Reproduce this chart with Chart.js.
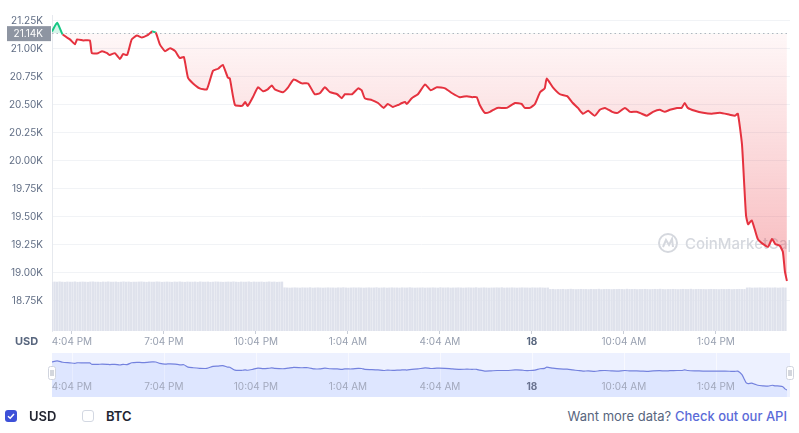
<!DOCTYPE html>
<html>
<head>
<meta charset="utf-8">
<script src="https://cdn.jsdelivr.net/npm/chart.js@4.4.1/dist/chart.umd.min.js"></script>
<style>
  body { margin: 0; width: 799px; height: 433px; background: #fff; position: relative; overflow: hidden; font-family: Inter, "Noto Sans", sans-serif; }
  canvas { position: absolute; left: 0; }
  .axis-unit { position: absolute; left: 15px; top: 334px; font-size: 11px; font-weight: 700; color: #58667e; }
  .box { position: absolute; width: 12px; height: 12px; border-radius: 3px; box-sizing: border-box; }
  .box svg { display: block; }
  .box.on { left: 5px; top: 410px; background: #3d50d8; }
  .box.off { left: 82px; top: 410px; border: 1px solid #d3d8e2; background: #fff; }
  .lbl { position: absolute; top: 408px; font-size: 13px; font-weight: 600; color: #222531; }
  .api { position: absolute; right: 12px; top: 408px; font-size: 13px; color: #58667e; }
  .api span { color: #5b6bd8; font-weight: 500; }
</style>
</head>
<body>
<canvas id="main" width="799" height="352" style="top:0"></canvas>
<canvas id="nav" width="799" height="46" style="top:352px"></canvas>
<div class="axis-unit">USD</div>
<div class="box on"><svg width="12" height="12" viewBox="0 0 12 12"><polyline points="3,6.3 5.2,8.3 9,4" fill="none" stroke="#fff" stroke-width="1.5"/></svg></div>
<div class="lbl" style="left:29px">USD</div>
<div class="box off"></div>
<div class="lbl" style="left:106px">BTC</div>
<div class="api">Want more data? <span>Check out our API</span></div>
<script>
// BTC/USD, 24h, minutes counted from 00:00 on the 17th
const minutes = [
  925, 935, 946, 960, 970, 974, 986, 999, 1003, 1015,
  1023, 1033, 1038, 1048, 1058, 1064, 1072, 1081, 1091, 1101,
  1111, 1121, 1128, 1136, 1146, 1156, 1166, 1175, 1183, 1191,
  1201, 1214, 1228, 1240, 1250, 1259, 1269, 1273, 1283, 1297,
  1303, 1308, 1318, 1328, 1338, 1347, 1355, 1361, 1377, 1387,
  1398, 1414, 1426, 1439, 1449, 1459, 1469, 1483, 1492, 1498,
  1512, 1524, 1531, 1537, 1551, 1563, 1574, 1582, 1592, 1602,
  1610, 1616, 1619, 1629, 1641, 1655, 1666, 1678, 1694, 1708,
  1723, 1737, 1747, 1756, 1762, 1772, 1782, 1796, 1815, 1831,
  1844, 1850, 1860, 1870, 1880, 1889, 1893, 1905, 1919, 1933,
  1944, 1954, 1964, 1974, 1987, 1997, 2007, 2021, 2032, 2046,
  2056, 2069, 2079, 2089, 2101, 2114, 2124, 2134, 2148, 2157,
  2163, 2169, 2183, 2199, 2216, 2232, 2251, 2261, 2267, 2275,
  2279, 2283, 2287, 2294, 2300, 2306, 2316, 2326, 2334, 2340,
  2349, 2355, 2359, 2363
];
const prices = [
  21154, 21233, 21128, 21084, 21040, 21084, 21075, 21075, 20961, 20961,
  20979, 20961, 20944, 20961, 20909, 20953, 20944, 21084, 21119, 21101,
  21119, 21154, 21145, 21040, 20979, 21005, 20979, 20918, 20927, 20743,
  20691, 20647, 20638, 20804, 20822, 20857, 20743, 20734, 20498, 20490,
  20524, 20490, 20568, 20656, 20621, 20638, 20673, 20638, 20612, 20656,
  20726, 20691, 20691, 20594, 20603, 20656, 20612, 20594, 20559, 20594,
  20594, 20647, 20629, 20559, 20542, 20516, 20472, 20507, 20481, 20498,
  20516, 20524, 20507, 20559, 20594, 20682, 20629, 20656, 20647, 20603,
  20568, 20577, 20568, 20568, 20498, 20428, 20437, 20472, 20472, 20516,
  20507, 20472, 20472, 20507, 20612, 20647, 20734, 20656, 20594, 20577,
  20516, 20472, 20420, 20446, 20402, 20455, 20472, 20437, 20428, 20472,
  20437, 20437, 20420, 20402, 20437, 20455, 20437, 20455, 20472, 20472,
  20516, 20472, 20446, 20428, 20420, 20428, 20411, 20402, 20420, 20149,
  19825, 19510, 19432, 19467, 19388, 19301, 19257, 19231, 19301, 19257,
  19240, 19187, 19012, 18925
];
const baseline = 21140;

// 24h volume, one bar every 5 minutes from 15:25 (billions)
const volStart = 925;
const volStep = 5;
const volumes = [
  38.6, 38.8, 38.7, 38.9, 38.7, 38.6, 38.8, 38.7, 38.7, 38.9, 38.6, 38.7, 38.8, 38.7, 38.6, 38.8, 38.9, 38.7, 38.7, 38.6, 38.8, 38.7, 38.9, 38.7,
  38.7, 38.8, 38.6, 38.7, 38.9, 38.7, 38.8, 38.6, 38.7, 38.7, 38.8, 38.9, 38.7, 38.6, 38.8, 38.7, 38.7, 38.9, 38.8, 38.6, 38.7, 38.8, 38.7, 38.6,
  38.8, 38.7, 38.9, 38.7, 38.6, 38.8, 38.7, 38.7, 38.8, 38.6, 38.9, 38.7, 38.7, 38.8, 38.6, 38.7, 38.9, 38.8, 38.7, 38.6, 38.7, 38.8, 38.7, 38.9,
  38.7, 38.6, 38.8, 38.7, 38.7, 38.9, 38.6, 38.8, 38.7, 38.7, 38.8, 38.6, 38.7, 38.9, 38.7, 38.8, 38.6, 38.7, 38.8, 34.2, 34.1, 34.0, 34.1, 34.2,
  34.1, 34.0, 34.2, 34.1, 34.1, 34.3, 34.0, 34.1, 34.2, 34.1, 34.0, 34.1, 34.2, 34.1, 34.1, 34.0, 34.2, 34.1, 34.3, 34.1, 34.0, 34.1, 34.2, 34.1,
  34.2, 34.1, 34.0, 34.1, 34.2, 34.1, 34.1, 34.3, 34.0, 34.1, 34.2, 34.0, 34.1, 34.2, 34.1, 34.1, 34.0, 34.2, 34.1, 34.1, 34.3, 34.1, 34.0, 34.1,
  34.1, 34.2, 34.0, 34.1, 34.1, 34.2, 34.1, 34.0, 34.3, 34.1, 34.1, 34.2, 34.0, 34.1, 34.1, 34.2, 34.1, 34.0, 34.1, 34.2, 34.1, 34.1, 34.3, 34.0,
  34.1, 34.2, 34.1, 34.0, 34.1, 34.1, 34.2, 34.1, 34.3, 34.0, 34.1, 34.1, 34.2, 34.1, 34.0, 34.1, 34.2, 34.1, 34.1, 34.0, 34.2, 34.1, 34.1, 34.2,
  34.1, 34.0, 34.1, 32.9, 33.0, 32.8, 32.9, 32.9, 33.0, 32.8, 32.9, 33.1, 32.9, 32.8, 32.9, 33.0, 32.9, 32.9, 32.8, 33.0, 32.9, 32.9, 33.1, 32.8,
  32.9, 33.0, 32.9, 32.8, 32.9, 32.9, 33.0, 32.9, 32.8, 33.1, 32.9, 32.9, 33.0, 32.8, 32.9, 32.9, 33.0, 32.9, 32.8, 32.9, 33.0, 32.9, 33.1, 32.9,
  32.8, 32.9, 32.9, 33.0, 32.9, 32.8, 32.9, 33.0, 32.9, 32.9, 33.1, 32.8, 32.9, 33.0, 32.9, 32.9, 32.8, 32.9, 33.0, 32.9, 32.9, 32.8, 33.0, 32.9,
  32.9, 33.0, 32.8, 32.9, 32.9, 33.0, 32.9, 32.9, 34.1, 34.2, 34.0, 34.1, 34.1, 34.2, 34.1, 34.0, 34.2, 34.1, 34.1, 34.2, 34.0, 34.1, 34.2, 34.1
];

const xTicks = [964, 1144, 1324, 1504, 1684, 1864, 2044, 2224];
const xLabels = ['4:04 PM', '7:04 PM', '10:04 PM', '1:04 AM', '4:04 AM', '18', '10:04 AM', '1:04 PM'];
const yTicks = [18750, 19000, 19250, 19500, 19750, 20000, 20250, 20500, 20750, 21000, 21250];

const RED = '#e5323f';
const GREEN = '#16c784';
const X_MIN = 925;
const X_MAX = 2369;

Chart.defaults.font.family = 'Inter, "Noto Sans", sans-serif';

const priceData = minutes.map((m, i) => ({ x: m, y: prices[i] }));
const volData = volumes.map((v, i) => ({ x: volStart + i * volStep, y: v }));
const labelFor = v => xLabels[xTicks.indexOf(v)] || '';
const isDay = ctx => !!(ctx.tick && labelFor(ctx.tick.value) === '18');

// watermark + dotted reference line, behind the series
const backdrop = {
  id: 'backdrop',
  beforeDatasetsDraw(chart) {
    const { ctx, chartArea: a, scales } = chart;
    ctx.save();
    ctx.beginPath();
    ctx.rect(a.left, a.top, a.right - a.left, a.bottom - a.top);
    ctx.clip();
    const cx = a.right - 122, cy = a.top + 228;
    ctx.strokeStyle = '#d5d8de';
    ctx.lineWidth = 2;
    ctx.beginPath();
    ctx.arc(cx, cy, 9, 0, Math.PI * 2);
    ctx.stroke();
    ctx.beginPath();
    ctx.moveTo(cx - 5, cy + 4);
    ctx.lineTo(cx - 2, cy - 3);
    ctx.lineTo(cx + 1, cy + 2);
    ctx.lineTo(cx + 4, cy - 4);
    ctx.lineTo(cx + 5, cy + 4);
    ctx.stroke();
    ctx.fillStyle = '#d5d8de';
    ctx.font = '500 15px Inter';
    ctx.textBaseline = 'middle';
    ctx.fillText('CoinMarketCap', cx + 17, cy + 1);
    // dotted baseline
    const y = Math.round(scales.y.getPixelForValue(baseline)) + 0.5;
    ctx.strokeStyle = '#b4bac6';
    ctx.lineWidth = 1;
    ctx.setLineDash([1.5, 3]);
    ctx.beginPath();
    ctx.moveTo(a.left, y);
    ctx.lineTo(a.right, y);
    ctx.stroke();
    ctx.restore();
  },
  afterDraw(chart) {
    const { ctx, scales } = chart;
    const y = scales.y.getPixelForValue(baseline);
    ctx.save();
    ctx.fillStyle = '#8e95a2';
    ctx.fillRect(7, y - 7, 44, 15);
    ctx.fillStyle = '#fff';
    ctx.font = '10px Inter';
    ctx.textAlign = 'right';
    ctx.textBaseline = 'middle';
    ctx.fillText((baseline / 1000).toFixed(2) + 'K', 43, y + 0.5);
    ctx.restore();
  }
};

new Chart(document.getElementById('main'), {
  data: {
    datasets: [
      {
        type: 'line',
        data: priceData,
        order: 0,
        borderWidth: 2,
        borderColor: RED,
        pointRadius: 0,
        tension: 0.15,
        segment: {
          borderColor: ctx => (ctx.p0.parsed.y + ctx.p1.parsed.y) / 2 > baseline ? GREEN : RED,
        },
        backgroundColor: ctx => {
          const chart = ctx.chart;
          const a = chart.chartArea;
          if (!a || !chart.scales.y) return 'rgba(234,57,67,0.1)';
          const y0 = chart.scales.y.getPixelForValue(baseline);
          const g = chart.ctx.createLinearGradient(0, y0, 0, a.bottom);
          g.addColorStop(0, 'rgba(234,57,67,0.04)');
          g.addColorStop(1, 'rgba(234,57,67,0.42)');
          return g;
        },
        fill: { value: baseline, above: 'rgba(22,199,132,0.18)' },
      },
      {
        type: 'bar',
        data: volData,
        yAxisID: 'vol',
        order: 1,
        backgroundColor: '#dfe2ec',
        barThickness: 1.7,
      }
    ]
  },
  options: {
    responsive: false,
    animation: false,
    devicePixelRatio: 1,
    layout: { padding: { top: 8, right: 9, left: 0, bottom: 0 } },
    plugins: { legend: { display: false }, tooltip: { enabled: false } },
    scales: {
      x: {
        type: 'linear',
        offset: false,
        min: X_MIN,
        max: X_MAX,
        afterBuildTicks: s => { s.ticks = xTicks.map(v => ({ value: v })); },
        afterFit: s => { s.height = 21; },
        border: { display: false },
        grid: { offset: false, drawOnChartArea: false, drawTicks: true, tickLength: 3, color: '#c9ced8' },
        ticks: {
          padding: 2,
          maxRotation: 0,
          autoSkip: false,
          callback: v => labelFor(v),
          color: ctx => isDay(ctx) ? '#58667e' : '#98a0b0',
          font: ctx => ({ size: 10, weight: isDay(ctx) ? '700' : '400' }),
        }
      },
      y: {
        position: 'left',
        min: 18479,
        max: 21302,
        afterBuildTicks: s => { s.ticks = yTicks.map(v => ({ value: v })); },
        afterFit: s => { s.width = 52; },
        border: { display: true, color: '#e6e9ee' },
        grid: { color: '#f1f3f6', drawTicks: false },
        ticks: {
          padding: 9,
          color: '#616e85',
          font: { size: 10 },
          callback: v => (v / 1000).toFixed(2) + 'K',
        }
      },
      vol: { display: false, min: 0, max: 250 }
    }
  },
  plugins: [backdrop]
});

// navigator strip
const navDecor = {
  id: 'navDecor',
  beforeDatasetsDraw(chart) {
    const { ctx, chartArea: a, scales } = chart;
    ctx.save();
    ctx.fillStyle = 'rgba(56,97,251,0.09)';
    ctx.fillRect(a.left, a.top, a.right - a.left, a.bottom - a.top);
    ctx.strokeStyle = 'rgba(255,255,255,0.6)';
    ctx.lineWidth = 1;
    xTicks.forEach(v => {
      const x = Math.round(scales.x.getPixelForValue(v)) + 0.5;
      ctx.beginPath();
      ctx.moveTo(x, a.top);
      ctx.lineTo(x, a.bottom - 14);
      ctx.stroke();
    });
    ctx.restore();
  },
  afterDatasetsDraw(chart) {
    const { ctx, chartArea: a, scales } = chart;
    ctx.save();
    ctx.textAlign = 'center';
    ctx.textBaseline = 'middle';
    xTicks.forEach((v, i) => {
      const bold = xLabels[i] === '18';
      ctx.font = (bold ? '700 ' : '') + '10px Inter';
      ctx.fillStyle = bold ? '#6a7390' : '#a3a9bd';
      ctx.fillText(xLabels[i], scales.x.getPixelForValue(v), a.bottom - 10);
    });
    [a.left, a.right].forEach(x => {
      ctx.fillStyle = '#fff';
      ctx.strokeStyle = '#d0d4de';
      ctx.beginPath();
      ctx.roundRect(x - 3.5, a.top + 13.5, 7, 13, 2);
      ctx.fill();
      ctx.stroke();
      ctx.strokeStyle = '#a8aebb';
      ctx.beginPath();
      ctx.moveTo(x - 1, a.top + 17); ctx.lineTo(x - 1, a.top + 23);
      ctx.moveTo(x + 1, a.top + 17); ctx.lineTo(x + 1, a.top + 23);
      ctx.stroke();
    });
    ctx.restore();
  }
};

new Chart(document.getElementById('nav'), {
  type: 'line',
  data: {
    datasets: [{
      data: priceData,
      borderColor: '#7482de',
      borderWidth: 1.2,
      pointRadius: 0,
      tension: 0.2,
      fill: 'start',
      backgroundColor: 'rgba(56,97,251,0.08)',
    }]
  },
  options: {
    responsive: false,
    animation: false,
    devicePixelRatio: 1,
    layout: { padding: { top: 1, right: 9, left: 52, bottom: 1 } },
    plugins: { legend: { display: false }, tooltip: { enabled: false } },
    scales: {
      x: { type: 'linear', display: false, min: X_MIN, max: X_MAX },
      y: { display: false, min: 18370, max: 21860 }
    }
  },
  plugins: [navDecor]
});
</script>
</body>
</html>
